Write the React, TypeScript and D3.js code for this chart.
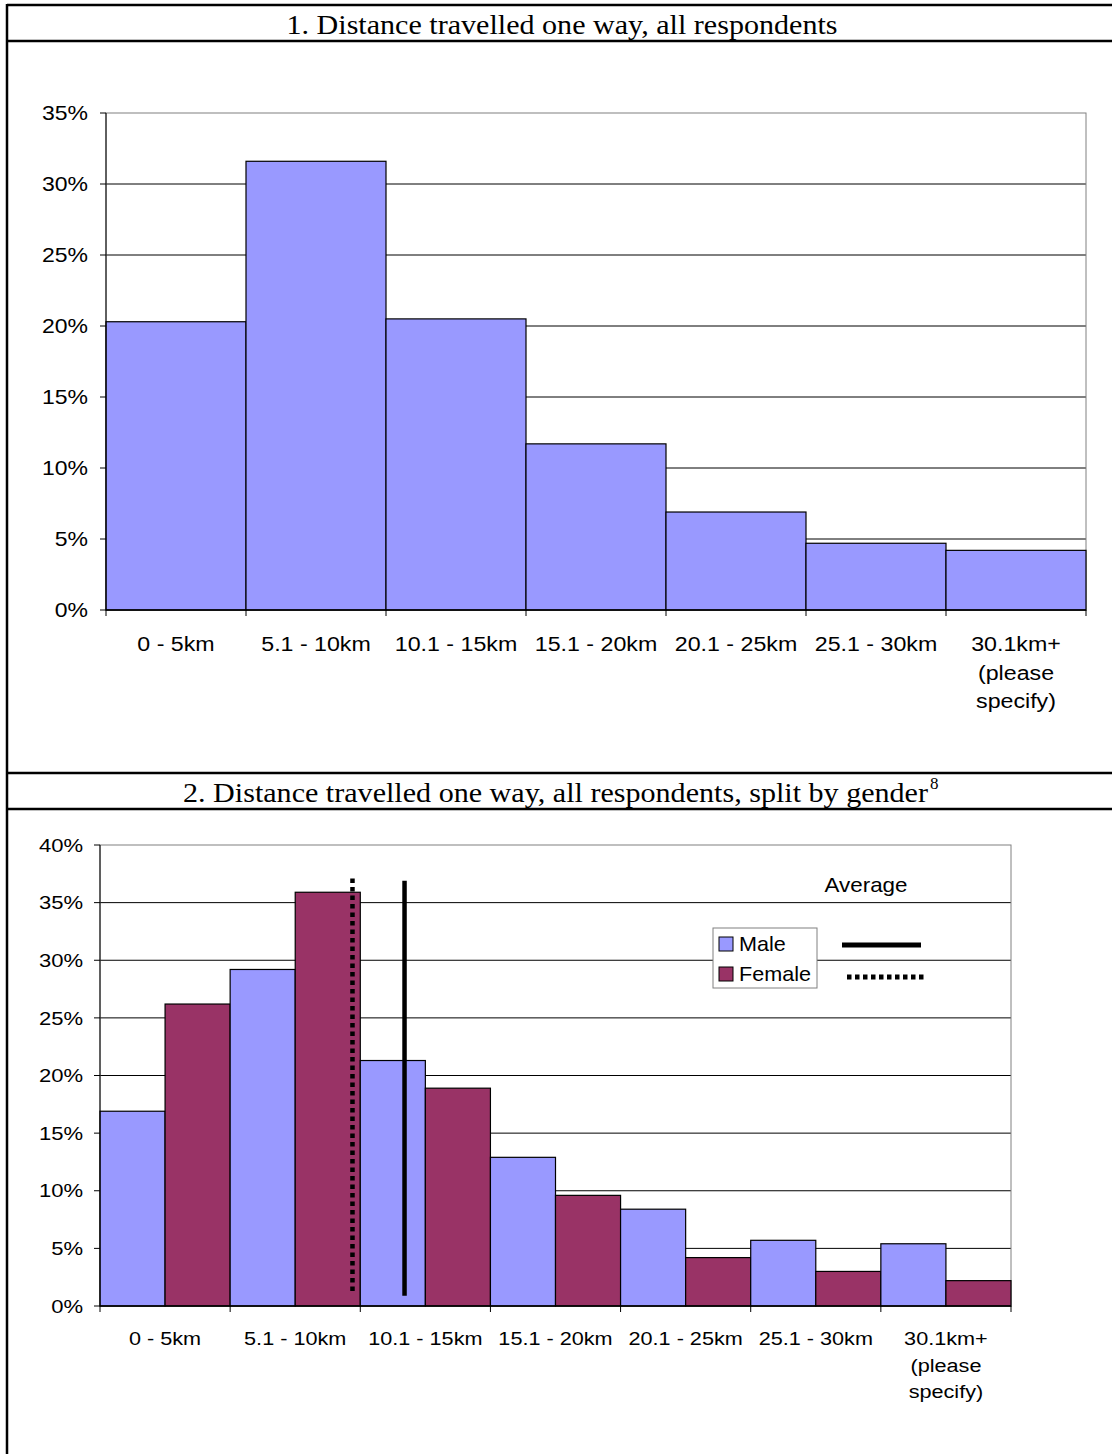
import React from "react";
import * as d3 from "d3";

const categories = ["0 - 5km", "5.1 - 10km", "10.1 - 15km", "15.1 - 20km", "20.1 - 25km", "25.1 - 30km", "30.1km+ (please specify)"];
const categoryLines = [["0 - 5km"], ["5.1 - 10km"], ["10.1 - 15km"], ["15.1 - 20km"], ["20.1 - 25km"], ["25.1 - 30km"], ["30.1km+", "(please", "specify)"]];
const allValues = [0.203, 0.316, 0.205, 0.117, 0.069, 0.047, 0.042];
const maleValues = [0.169, 0.292, 0.213, 0.129, 0.084, 0.057, 0.054];
const femaleValues = [0.262, 0.359, 0.189, 0.096, 0.042, 0.030, 0.022];
const genders = ["Male", "Female"];
const averageKm = { Male: 11.7, Female: 9.7 };
const ticks1 = [0, 0.05, 0.1, 0.15, 0.2, 0.25, 0.3, 0.35];
const ticks2 = [0, 0.05, 0.1, 0.15, 0.2, 0.25, 0.3, 0.35, 0.4];
const title1 = "1. Distance travelled one way, all respondents";
const title2 = "2. Distance travelled one way, all respondents, split by gender";

const BLUE = "#9999FF";
const PLUM = "#993366";
const SANS = "'Liberation Sans', Arial, sans-serif";
const SERIF = "'Liberation Serif', 'Times New Roman', serif";

function SText({ x, y, sx = 1.15, anchor = "start", size = 20, dy = "0", children }: any) {
  return (
    <text transform={`translate(${x},${y}) scale(${sx},1)`} dy={dy} textAnchor={anchor} fontFamily={SANS} fontSize={size} fill="#000">
      {children}
    </text>
  );
}

export default function App() {
  const pct = d3.format(".0%");

  // Chart 1
  const x1 = d3.scaleBand<string>().domain(categories).range([106, 1086]).padding(0);
  const y1 = d3.scaleLinear().domain([0, 0.35]).range([610, 113]);

  // Chart 2
  const x2 = d3.scaleBand<string>().domain(categories).range([100, 1011]).padding(0);
  const xg = d3.scaleBand<string>().domain(genders).range([0, x2.bandwidth()]).padding(0);
  const y2 = d3.scaleLinear().domain([0, 0.4]).range([1306, 845]);
  const km = d3.scaleLinear().domain([0, 35]).range([100, 1011]);

  const boundaries1 = categories.map((c) => x1(c)!).concat([x1.range()[1]]);
  const boundaries2 = categories.map((c) => x2(c)!).concat([x2.range()[1]]);

  return (
    <svg width={1112} height={1454} style={{ position: "absolute", left: 0, top: 0, background: "#fff" }}>
      <rect x={0} y={0} width={1112} height={1454} fill="#fff" />
      {/* table borders */}
      <g stroke="#000" strokeWidth={2.5}>
        <line x1={7} y1={5} x2={1112} y2={5} />
        <line x1={7} y1={41} x2={1112} y2={41} />
        <line x1={7} y1={773} x2={1112} y2={773} />
        <line x1={7} y1={809} x2={1112} y2={809} />
        <line x1={7} y1={4} x2={7} y2={1454} />
      </g>
      <text x={562} y={34} textAnchor="middle" fontFamily={SERIF} fontSize={28} textLength={551} lengthAdjust="spacingAndGlyphs">{title1}</text>
      <text x={183} y={802} fontFamily={SERIF} fontSize={28} textLength={745} lengthAdjust="spacingAndGlyphs">{title2}</text>
      <text x={930} y={789} fontFamily={SERIF} fontSize={17}>8</text>

      {/* ===== Chart 1 ===== */}
      <g>
        {ticks1.filter((t) => t > 0 && t < 0.35).map((t) => (
          <line key={t} x1={x1.range()[0]} x2={x1.range()[1]} y1={y1(t)} y2={y1(t)} stroke="#000" strokeWidth={1} />
        ))}
        <rect x={x1.range()[0]} y={y1(0.35)} width={x1.range()[1] - x1.range()[0]} height={y1(0) - y1(0.35)} fill="none" stroke="#808080" strokeWidth={1} />
        {categories.map((c, i) => (
          <rect key={c} x={x1(c)} y={y1(allValues[i])} width={x1.bandwidth()} height={y1(0) - y1(allValues[i])} fill={BLUE} stroke="#000" strokeWidth={1.2} />
        ))}
        <line x1={x1.range()[0]} x2={x1.range()[0]} y1={y1(0.35)} y2={y1(0)} stroke="#000" strokeWidth={1} />
        <line x1={x1.range()[0]} x2={x1.range()[1]} y1={y1(0)} y2={y1(0)} stroke="#000" strokeWidth={1.5} />
        {ticks1.map((t) => (
          <g key={t}>
            <line x1={x1.range()[0] - 6} x2={x1.range()[0]} y1={y1(t)} y2={y1(t)} stroke="#000" />
            <SText x={88} y={y1(t)} dy="0.35em" anchor="end" size={20}>{pct(t)}</SText>
          </g>
        ))}
        {boundaries1.map((b, i) => (
          <line key={i} x1={b} x2={b} y1={y1(0)} y2={y1(0) + 6} stroke="#000" />
        ))}
        {categories.map((c, i) =>
          categoryLines[i].map((l, j) => (
            <SText key={c + j} x={x1(c)! + x1.bandwidth() / 2} y={651 + j * 28.5} anchor="middle" size={20} sx={1.16}>{l}</SText>
          ))
        )}
      </g>

      {/* ===== Chart 2 ===== */}
      <g>
        {ticks2.filter((t) => t > 0 && t < 0.4).map((t) => (
          <line key={t} x1={x2.range()[0]} x2={x2.range()[1]} y1={y2(t)} y2={y2(t)} stroke="#000" strokeWidth={1} />
        ))}
        <rect x={x2.range()[0]} y={y2(0.4)} width={x2.range()[1] - x2.range()[0]} height={y2(0) - y2(0.4)} fill="none" stroke="#808080" strokeWidth={1} />
        {categories.map((c, i) => (
          <g key={c}>
            <rect x={x2(c)! + xg("Male")!} y={y2(maleValues[i])} width={xg.bandwidth()} height={y2(0) - y2(maleValues[i])} fill={BLUE} stroke="#000" strokeWidth={1.2} />
            <rect x={x2(c)! + xg("Female")!} y={y2(femaleValues[i])} width={xg.bandwidth()} height={y2(0) - y2(femaleValues[i])} fill={PLUM} stroke="#000" strokeWidth={1.2} />
          </g>
        ))}
        <line x1={x2.range()[0]} x2={x2.range()[0]} y1={y2(0.4)} y2={y2(0)} stroke="#000" strokeWidth={1} />
        <line x1={x2.range()[0]} x2={x2.range()[1]} y1={y2(0)} y2={y2(0)} stroke="#000" strokeWidth={1.5} />
        {ticks2.map((t) => (
          <g key={t}>
            <line x1={x2.range()[0] - 6} x2={x2.range()[0]} y1={y2(t)} y2={y2(t)} stroke="#000" />
            <SText x={83} y={y2(t)} dy="0.35em" anchor="end" size={19} sx={1.16}>{pct(t)}</SText>
          </g>
        ))}
        {boundaries2.map((b, i) => (
          <line key={i} x1={b} x2={b} y1={y2(0)} y2={y2(0) + 6} stroke="#000" />
        ))}
        {categories.map((c, i) =>
          categoryLines[i].map((l, j) => (
            <SText key={c + j} x={x2(c)! + x2.bandwidth() / 2} y={1345 + j * 26.5} anchor="middle" size={19} sx={1.14}>{l}</SText>
          ))
        )}

        {/* average lines */}
        <line x1={km(averageKm.Female)} x2={km(averageKm.Female)} y1={y2(0.371)} y2={y2(0.012)} stroke="#000" strokeWidth={4.5} strokeDasharray="4.5 4" />
        <line x1={km(averageKm.Male)} x2={km(averageKm.Male)} y1={y2(0.369)} y2={y2(0.009)} stroke="#000" strokeWidth={4.5} />

        {/* legend */}
        <SText x={866} y={892} anchor="middle" size={20} sx={1.12}>Average</SText>
        <rect x={713} y={928} width={104} height={60} fill="#fff" stroke="#808080" strokeWidth={1} />
        <rect x={719} y={937} width={14} height={14} fill={BLUE} stroke="#000" strokeWidth={1} />
        <SText x={739} y={951} size={20} sx={1.08}>Male</SText>
        <rect x={719} y={967} width={14} height={14} fill={PLUM} stroke="#000" strokeWidth={1} />
        <SText x={739} y={981} size={20} sx={1.08}>Female</SText>
        <line x1={842} x2={921} y1={945} y2={945} stroke="#000" strokeWidth={5} />
        <line x1={847} x2={926} y1={977} y2={977} stroke="#000" strokeWidth={5} strokeDasharray="4.5 3.5" />
      </g>
    </svg>
  );
}
